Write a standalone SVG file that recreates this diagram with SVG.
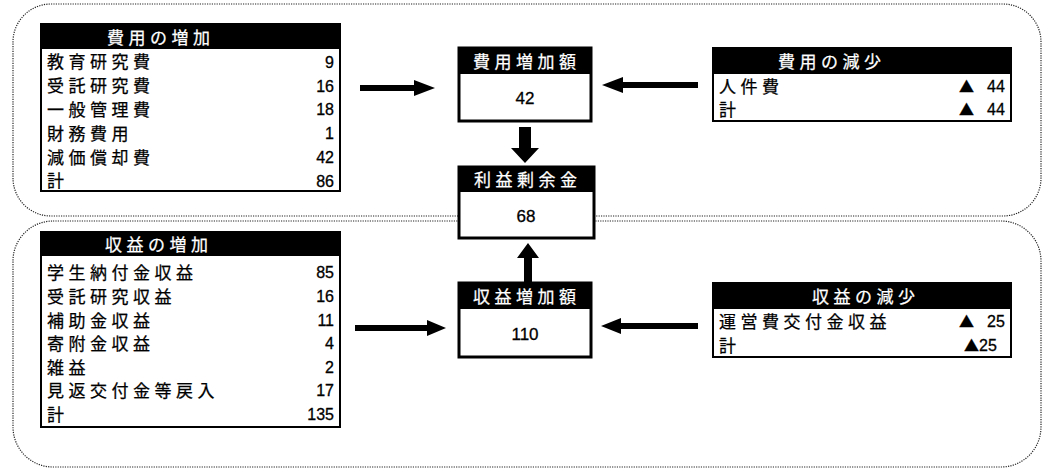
<svg xmlns="http://www.w3.org/2000/svg" width="1045" height="470" viewBox="0 0 1045 470">
<style>
.panel{fill:none;stroke:#222;stroke-width:1.2;stroke-dasharray:1.2 1.2}
.tbl{fill:#fff;stroke:#000;stroke-width:2}
.box{fill:#fff;stroke:#000;stroke-width:3}
.hdr{fill:#000}
.jp{font-family:"Noto Sans CJK JP","Noto Sans CJK SC",sans-serif;font-size:17px;letter-spacing:4.5px;fill:#000;stroke:#000;stroke-width:0.25}
.jpw{font-family:"Noto Sans CJK JP","Noto Sans CJK SC",sans-serif;font-size:17px;letter-spacing:4.5px;fill:#fff;stroke:#fff;stroke-width:0.25}
.num{font-family:"Liberation Sans",Arial,sans-serif;font-size:16px;fill:#000;stroke:#000;stroke-width:0.3}
.tri{font-family:"Noto Sans CJK JP",sans-serif;font-size:15px}
.bnum{font-family:"Liberation Sans",Arial,sans-serif;font-size:17px;fill:#000;stroke:#000;stroke-width:0.3}
.arrow{fill:#000}
</style>
<rect class="panel" x="13" y="4" width="1028" height="212" rx="38" ry="38"/>
<rect class="panel" x="13" y="221" width="1028" height="246" rx="40" ry="40"/>

<g id="cost-increase">
<rect class="tbl" x="41" y="24" width="299" height="167"/>
<rect class="hdr" x="41" y="24" width="299" height="25"/>
<text class="jpw" x="107" y="43.5">費用の増加</text>
<text class="jp" x="47" y="68">教育研究費</text><text class="num" x="334" y="67.5" text-anchor="end">9</text>
<text class="jp" x="47" y="92">受託研究費</text><text class="num" x="334" y="91.5" text-anchor="end">16</text>
<text class="jp" x="47" y="115.5">一般管理費</text><text class="num" x="334" y="115" text-anchor="end">18</text>
<text class="jp" x="47" y="139.5">財務費用</text><text class="num" x="334" y="139" text-anchor="end">1</text>
<text class="jp" x="47" y="163.5">減価償却費</text><text class="num" x="334" y="163" text-anchor="end">42</text>
<text class="jp" x="47" y="187">計</text><text class="num" x="334" y="186.5" text-anchor="end">86</text>
</g>

<g id="cost-increase-total">
<rect class="box" x="459" y="48" width="132" height="73"/>
<rect class="hdr" x="459" y="48" width="132" height="26"/>
<text class="jpw" x="473" y="67.5">費用増加額</text>
<text class="bnum" x="525" y="103.5" text-anchor="middle">42</text>
</g>

<g id="cost-decrease">
<rect class="tbl" x="713" y="48" width="298" height="73"/>
<rect class="hdr" x="713" y="48" width="298" height="26"/>
<text class="jpw" x="778" y="67.5">費用の減少</text>
<text class="jp" x="719" y="92.5">人件費</text>
<text class="num" y="92"><tspan class="tri" x="959">▲</tspan> <tspan x="987">44</tspan></text>
<text class="jp" x="719" y="115.5">計</text>
<text class="num" y="115"><tspan class="tri" x="959">▲</tspan> <tspan x="987">44</tspan></text>
</g>

<g id="retained-earnings">
<rect class="box" x="459" y="167" width="135" height="71"/>
<rect class="hdr" x="459" y="167" width="135" height="25"/>
<text class="jpw" x="474" y="186">利益剰余金</text>
<text class="bnum" x="526" y="221.5" text-anchor="middle">68</text>
</g>

<g id="revenue-increase">
<rect class="tbl" x="41" y="232" width="299" height="195"/>
<rect class="hdr" x="41" y="232" width="299" height="24"/>
<text class="jpw" x="105" y="250.5">収益の増加</text>
<text class="jp" x="47" y="278.5">学生納付金収益</text><text class="num" x="334" y="278" text-anchor="end">85</text>
<text class="jp" x="47" y="302.5">受託研究収益</text><text class="num" x="334" y="302" text-anchor="end">16</text>
<text class="jp" x="47" y="326.5">補助金収益</text><text class="num" x="334" y="326" text-anchor="end">11</text>
<text class="jp" x="47" y="349.5">寄附金収益</text><text class="num" x="334" y="349" text-anchor="end">4</text>
<text class="jp" x="47" y="373.5">雑益</text><text class="num" x="334" y="373" text-anchor="end">2</text>
<text class="jp" x="47" y="396.5">見返交付金等戻入</text><text class="num" x="334" y="396" text-anchor="end">17</text>
<text class="jp" x="47" y="420.5">計</text><text class="num" x="334" y="420" text-anchor="end">135</text>
</g>

<g id="revenue-increase-total">
<rect class="box" x="459" y="283" width="132" height="74"/>
<rect class="hdr" x="459" y="283" width="132" height="26"/>
<text class="jpw" x="473" y="302.5">収益増加額</text>
<text class="bnum" x="525" y="339.5" text-anchor="middle">110</text>
</g>

<g id="revenue-decrease">
<rect class="tbl" x="713" y="283" width="298" height="74"/>
<rect class="hdr" x="713" y="283" width="298" height="26"/>
<text class="jpw" x="812" y="302.5">収益の減少</text>
<text class="jp" x="719" y="327.5">運営費交付金収益</text>
<text class="num" y="327"><tspan class="tri" x="959">▲</tspan> <tspan x="987">25</tspan></text>
<text class="jp" x="719" y="351.5">計</text>
<text class="num" y="351"><tspan class="tri" x="964">▲</tspan><tspan x="979">25</tspan></text>
</g>

<g id="connectors">
<path class="arrow" d="M360,85 L414,85 L414,80 L435,88 L414,96 L414,91 L360,91 Z"/>
<path class="arrow" d="M698,82 L623,82 L623,77 L602,85 L623,93 L623,88 L698,88 Z"/>
<path class="arrow" d="M355,325 L427,325 L427,320 L446,328 L427,336 L427,331 L355,331 Z"/>
<path class="arrow" d="M698,323 L621,323 L621,318 L601,326 L621,334 L621,329 L698,329 Z"/>
<path class="arrow" d="M519,127 L531,127 L531,148 L539,148 L525,163 L511,148 L519,148 Z"/>
<path class="arrow" d="M524,282 L532,282 L532,258 L539,258 L528,243 L517,258 L524,258 Z"/>
</g>
</svg>
